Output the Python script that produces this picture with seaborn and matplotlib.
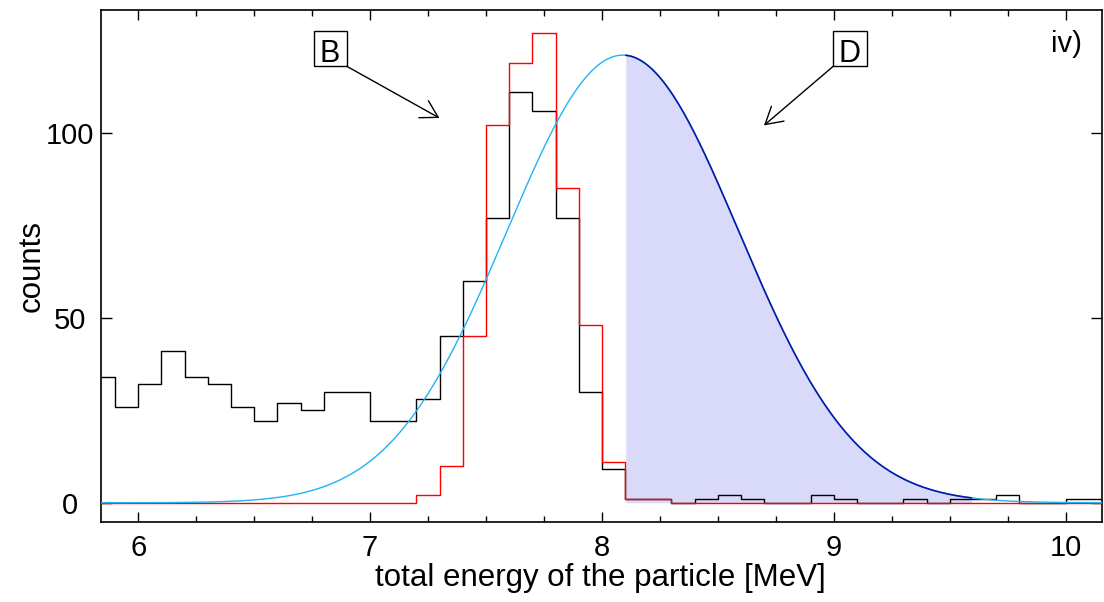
import numpy as np
import pandas as pd
import matplotlib
matplotlib.use("Agg")
import matplotlib.pyplot as plt
import seaborn as sns
from matplotlib.patches import Rectangle
from matplotlib.ticker import MultipleLocator

# ---------------- data ----------------
bin_width = 0.1
bin_start = 5.8
black_counts = [34, 26, 32, 41, 34, 32, 26, 22, 27, 25,
                30, 30, 22, 22, 28, 45, 60, 77, 111, 106,
                77, 30, 9, 1, 1, 0, 1, 2, 1, 0,
                0, 2, 1, 0, 0, 1, 0, 1, 1, 2,
                0, 0, 1, 1]
red_counts = [0, 0, 0, 0, 0, 0, 0, 0, 0, 0,
              0, 0, 0, 0, 2, 10, 45, 102, 119, 127,
              85, 48, 11, 1, 1, 0, 0, 0, 0, 0,
              0, 0, 0, 0, 0, 0, 0, 0, 0, 0,
              0, 0, 0, 0]
fit_amplitude = 121.0
fit_mean = 8.09
fit_sigma = 0.50
shade_lo, shade_hi = 8.1, 9.6
x_ticks = [6, 7, 8, 9, 10]
y_ticks = [0, 50, 100]
x_label = "total energy of the particle [MeV]"
y_label = "counts"
panel_label = "iv)"

# ---------------- derived tables ----------------
n_bins = len(black_counts)
edges = [round(bin_start + bin_width * i, 2) for i in range(n_bins + 1)]
centers = [(edges[i] + edges[i + 1]) / 2 for i in range(n_bins)]
hist_df = pd.DataFrame({"energy": centers, "black": black_counts, "red": red_counts})

xmin, xmax = 5.838, 10.157
ymin, ymax = -5.2, 133.2
x_curve = np.linspace(xmin, xmax, 800)
fit_df = pd.DataFrame({"energy": x_curve,
                       "counts": fit_amplitude * np.exp(-0.5 * ((x_curve - fit_mean) / fit_sigma) ** 2)})
shade_df = fit_df[(fit_df.energy >= shade_lo) & (fit_df.energy <= shade_hi)]

# ---------------- style ----------------
sns.set_style("ticks")
plt.rcParams["font.family"] = ["Liberation Sans", "DejaVu Sans"]
plt.rcParams["text.color"] = "black"
plt.rcParams["axes.labelcolor"] = "black"
plt.rcParams["xtick.color"] = "black"
plt.rcParams["ytick.color"] = "black"

fig = plt.figure(figsize=(11.04, 6.02), dpi=100)
ax = fig.add_axes([100.7 / 1104, 1 - 522 / 602, (1102 - 100.7) / 1104, (522 - 10) / 602])

cyan = "#1fb4f4"
navy = "#0a1aa6"
shade = "#d9d9f9"

ax.fill_between(shade_df.energy, 0, shade_df.counts, color=shade, linewidth=0, zorder=1)

sns.histplot(data=hist_df, x="energy", weights="black", bins=edges, element="step",
             fill=False, color="black", linewidth=1.0, ax=ax, zorder=3)
sns.histplot(data=hist_df, x="energy", weights="red", bins=edges, element="step",
             fill=False, color="red", linewidth=1.0, ax=ax, zorder=4)

sns.lineplot(data=fit_df, x="energy", y="counts", color=cyan, linewidth=1.0, ax=ax, zorder=5)
sns.lineplot(data=shade_df, x="energy", y="counts", color=navy, linewidth=1.2, ax=ax, zorder=6)

ax.set_xlim(xmin, xmax)
ax.set_ylim(ymin, ymax)

# ---------------- axes / ticks ----------------
ax.set_xticks(x_ticks)
ax.set_yticks(y_ticks)
ax.xaxis.set_minor_locator(MultipleLocator(0.25))
ax.tick_params(axis="both", which="both", direction="in", top=True, right=True,
               colors="black", width=1.0)
ax.tick_params(axis="x", which="major", length=7.5, labelsize=21, pad=8.5)
ax.tick_params(axis="x", which="minor", length=4)
ax.tick_params(axis="y", which="major", length=8, labelsize=21, pad=22)
for lab in ax.get_yticklabels():
    lab.set_horizontalalignment("center")
for sp in ax.spines.values():
    sp.set_linewidth(1.2)
    sp.set_color("black")

ax.set_xlabel(x_label, fontsize=22.5, color="black")
ax.set_ylabel(y_label, fontsize=22.5, color="black")
ax.xaxis.set_label_coords(0.4987, -0.081)
ax.yaxis.set_label_coords(-0.0689, 0.5)
ax.yaxis.label.set_verticalalignment("center")

# ---------------- annotations ----------------
arrow_kw = dict(arrowstyle="->,head_length=0.6,head_width=0.35", color="black",
                lw=1.0, shrinkA=0, shrinkB=0, mutation_scale=20)
for (lab, cx, bx0, bx1, tail, tip) in [
        ("B", 6.827, 6.758, 6.899, (6.899, 118.0), (7.299, 104.0)),
        ("D", 9.069, 8.998, 9.142, (8.998, 118.0), (8.699, 102.0))]:
    ax.add_patch(Rectangle((bx0, 118.0), bx1 - bx0, 9.5, fill=False, edgecolor="black",
                           linewidth=1.0, zorder=7))
    ax.text(cx, 119.2, lab, ha="center", va="baseline", fontsize=22, color="black", zorder=8)
    ax.annotate("", xy=tip, xytext=tail, arrowprops=arrow_kw, zorder=8)

ax.text(10.071, 121.9, panel_label, ha="right", va="baseline", fontsize=21, color="black")

fig.savefig("out.png", dpi=100)
